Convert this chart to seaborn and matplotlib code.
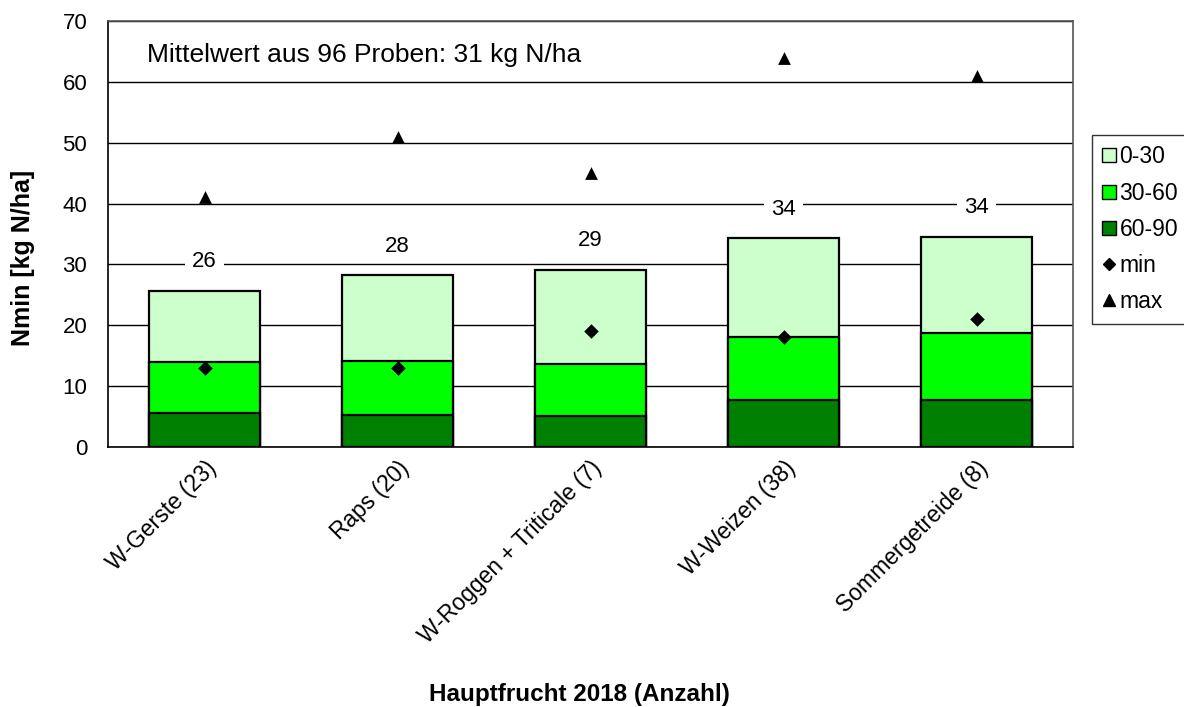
import matplotlib
matplotlib.use("Agg")
import matplotlib.pyplot as plt
import seaborn as sns
import pandas as pd
from matplotlib.lines import Line2D

categories = ["W-Gerste (23)", "Raps (20)", "W-Roggen + Triticale (7)", "W-Weizen (38)", "Sommergetreide (8)"]
layer_60_90 = [5.6, 5.3, 5.1, 7.8, 7.7]
layer_30_60 = [8.3, 8.9, 8.5, 10.3, 11.1]
layer_0_30 = [11.8, 14.0, 15.5, 16.2, 15.7]
total_labels = ["26", "28", "29", "34", "34"]
min_vals = [13, 13, 19, 18, 21]
max_vals = [41, 51, 45, 64, 61]
mean_text = "Mittelwert aus 96 Proben: 31 kg N/ha"

sns.set_theme(style="white")
plt.rcParams['font.family'] = ['Liberation Sans', 'DejaVu Sans']
plt.rcParams['text.color'] = 'black'
plt.rcParams['axes.labelcolor'] = 'black'
plt.rcParams['xtick.color'] = 'black'
plt.rcParams['ytick.color'] = 'black'

c_top = "#CCFFCC"
c_mid = "#00FF00"
c_bot = "#008000"

df = pd.DataFrame({
    "cat": categories,
    "bot": layer_60_90,
    "mid": [a + b for a, b in zip(layer_60_90, layer_30_60)],
    "top": [a + b + c for a, b, c in zip(layer_60_90, layer_30_60, layer_0_30)],
    "min": min_vals,
    "max": max_vals,
})

fig = plt.figure(figsize=(11.84, 7.07), dpi=100)
ax = fig.add_axes([108/1184, 1 - 447/707, (1073-108)/1184, (447-21)/707])

for col, colr in [("top", c_top), ("mid", c_mid), ("bot", c_bot)]:
    sns.barplot(data=df, x="cat", y=col, color=colr, edgecolor="black", linewidth=1.6,
                width=0.57, saturation=1, ax=ax, zorder=3)

sns.scatterplot(data=df, x="cat", y="min", marker="D", s=55, color="black", ax=ax, zorder=5, linewidth=0)
sns.scatterplot(data=df, x="cat", y="max", marker="^", s=85, color="black", ax=ax, zorder=5, linewidth=0)

for i, (t, lab) in enumerate(zip(df["top"], total_labels)):
    ax.annotate(lab, (i, t), xytext=(0, 21), textcoords="offset points", ha="center", va="center",
                fontsize=16, zorder=4,
                bbox=dict(boxstyle="square,pad=0.3", fc="white", ec="none"))

ax.text(0.04, 0.92, mean_text, transform=ax.transAxes, fontsize=19, va="center", ha="left", zorder=6)

ax.set_ylim(0, 70)
ax.set_xlim(-0.5, 4.5)
ax.set_yticks(range(0, 71, 10))
ax.yaxis.grid(True, color="black", linewidth=1.0, zorder=0)
ax.set_axisbelow(True)
ax.tick_params(axis="y", labelsize=16, left=False, length=0, pad=15)
ax.tick_params(axis="x", labelsize=16.5, bottom=False, length=0, pad=7)
plt.setp(ax.get_xticklabels(), rotation=45, ha="right", rotation_mode="anchor")
for s in ax.spines.values():
    s.set_color("#555555")
    s.set_linewidth(1.2)
ax.spines["left"].set_color("black")
ax.spines["bottom"].set_color("black")

ax.set_ylabel("Nmin [kg N/ha]", fontsize=18, fontweight="bold")
ax.yaxis.set_label_coords(-0.088, 0.444)
ax.yaxis.label.set_va("center")
ax.set_xlabel("Hauptfrucht 2018 (Anzahl)", fontsize=17.5, fontweight="bold")
ax.xaxis.set_label_coords((579-108)/965, (447-694)/426)
ax.xaxis.label.set_va("center")

handles = [
    Line2D([], [], marker="s", linestyle="none", markersize=10, markerfacecolor=c_top, markeredgecolor="black"),
    Line2D([], [], marker="s", linestyle="none", markersize=10, markerfacecolor=c_mid, markeredgecolor="black"),
    Line2D([], [], marker="s", linestyle="none", markersize=10, markerfacecolor=c_bot, markeredgecolor="black"),
    Line2D([], [], marker="D", linestyle="none", markersize=6.5, color="black"),
    Line2D([], [], marker="^", linestyle="none", markersize=8, color="black"),
]
leg = fig.legend(handles, ["0-30", "30-60", "60-90", "min", "max"], loc="upper left",
                 bbox_to_anchor=(1092/1184, 1 - 135/707), fontsize=16.5, frameon=True,
                 fancybox=False, edgecolor="black", handlelength=0.6, handletextpad=0.15,
                 labelspacing=0.58, borderpad=0.45, borderaxespad=0)
leg.get_frame().set_linewidth(1.0)

fig.savefig("out.png", dpi=100)
